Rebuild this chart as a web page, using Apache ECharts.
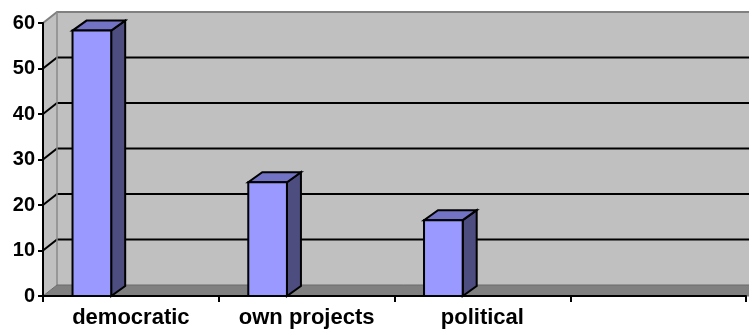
<!DOCTYPE html>
<html>
<head>
<meta charset="utf-8">
<script src="https://cdn.jsdelivr.net/npm/echarts@6/dist/echarts.min.js"></script>
<style>
  html, body { margin: 0; padding: 0; background: #fff; }
  #chart { width: 749px; height: 333px; }
</style>
</head>
<body>
<div id="chart"></div>
<script>
const categories = ['democratic', 'own projects', 'political', '']
const values = [58.33, 25, 16.67]
const gridValues = [10, 20, 30, 40, 50]

// depth offsets of the fake 3D box
const WALL_DX = 14, WALL_DY = -11
const BAR_DX = 14, BAR_DY = -10

const labelFont = { color: '#000', fontFamily: 'Liberation Sans, Arial', fontWeight: 'bold' }

function renderWalls(params, api) {
  const cs = params.coordSys
  const left = cs.x, right = cs.x + cs.width + 40
  const top = cs.y, bottom = cs.y + cs.height
  const children = []
  // back wall
  children.push({
    type: 'rect',
    shape: { x: left + WALL_DX, y: top + WALL_DY, width: right - left, height: cs.height },
    style: { fill: '#c0c0c0' }
  })
  // side wall
  children.push({
    type: 'polygon',
    shape: { points: [[left, bottom], [left, top], [left + WALL_DX, top + WALL_DY], [left + WALL_DX, bottom + WALL_DY]] },
    style: { fill: '#c0c0c0' }
  })
  gridValues.forEach(v => {
    const y = api.coord([0, v])[1]
    children.push({
      type: 'polyline',
      shape: { points: [[left, y], [left + WALL_DX, y + WALL_DY], [right + WALL_DX, y + WALL_DY]] },
      style: { stroke: '#000', lineWidth: 2, fill: null }
    })
  })
  // top edges
  children.push({
    type: 'polyline',
    shape: { points: [[left, top], [left + WALL_DX, top + WALL_DY], [right + WALL_DX, top + WALL_DY]] },
    style: { stroke: '#808080', lineWidth: 2, fill: null }
  })
  children.push({
    type: 'line',
    shape: { x1: left + WALL_DX, y1: top + WALL_DY, x2: left + WALL_DX, y2: bottom + WALL_DY },
    style: { stroke: '#8a8a8a', lineWidth: 1.5 }
  })
  // floor
  children.push({
    type: 'polygon',
    shape: { points: [[left, bottom], [left + WALL_DX, bottom + WALL_DY], [right + WALL_DX, bottom + WALL_DY], [right, bottom]] },
    style: { fill: '#808080', stroke: '#6a6a6a', lineWidth: 1 }
  })
  return { type: 'group', children }
}

function renderBar(params, api) {
  const idx = api.value(0)
  const top = api.coord([idx, api.value(1)])
  const base = api.coord([idx, 0])
  const catW = api.size([1, 0])[0]
  const x0 = top[0] - catW / 2 + catW * 0.168
  const w = catW * 0.22
  const ty = top[1], by = base[1]
  const edge = { stroke: '#000', lineWidth: 2, lineJoin: 'miter' }
  return {
    type: 'group',
    children: [
      {
        type: 'polygon',
        shape: { points: [[x0 + w, ty], [x0 + w + BAR_DX, ty + BAR_DY], [x0 + w + BAR_DX, by + BAR_DY], [x0 + w, by]] },
        style: Object.assign({ fill: '#4d4d80' }, edge)
      },
      {
        type: 'polygon',
        shape: { points: [[x0, ty], [x0 + w, ty], [x0 + w + BAR_DX, ty + BAR_DY], [x0 + BAR_DX, ty + BAR_DY]] },
        style: Object.assign({ fill: '#7373c6' }, edge)
      },
      {
        type: 'rect',
        shape: { x: x0, y: ty, width: w, height: by - ty },
        style: Object.assign({ fill: '#9999ff' }, edge)
      }
    ]
  }
}

const chart = echarts.init(document.getElementById('chart'))
chart.setOption({
  animation: false,
  backgroundColor: '#fff',
  grid: { left: 43, right: 3, top: 23, bottom: 37 },
  xAxis: {
    type: 'category',
    data: categories,
    boundaryGap: true,
    axisLine: { lineStyle: { color: '#000', width: 2 } },
    axisTick: { show: true, length: 6, lineStyle: { color: '#000', width: 2 } },
    axisLabel: Object.assign({ margin: 11, interval: 0, fontSize: 22 }, labelFont),
    splitLine: { show: false }
  },
  yAxis: {
    type: 'value',
    min: 0,
    max: 60,
    interval: 10,
    axisLine: { show: true, lineStyle: { color: '#000', width: 2 } },
    axisTick: { show: true, length: 5, lineStyle: { color: '#000', width: 2 } },
    axisLabel: Object.assign({ margin: 8, fontSize: 20 }, labelFont),
    splitLine: { show: false }
  },
  series: [
    {
      type: 'custom',
      z: -1,
      silent: true,
      renderItem: renderWalls,
      data: [[0, 0]]
    },
    {
      type: 'custom',
      renderItem: renderBar,
      encode: { x: 0, y: 1 },
      data: values.map((v, i) => [i, v])
    }
  ]
})
</script>
</body>
</html>
